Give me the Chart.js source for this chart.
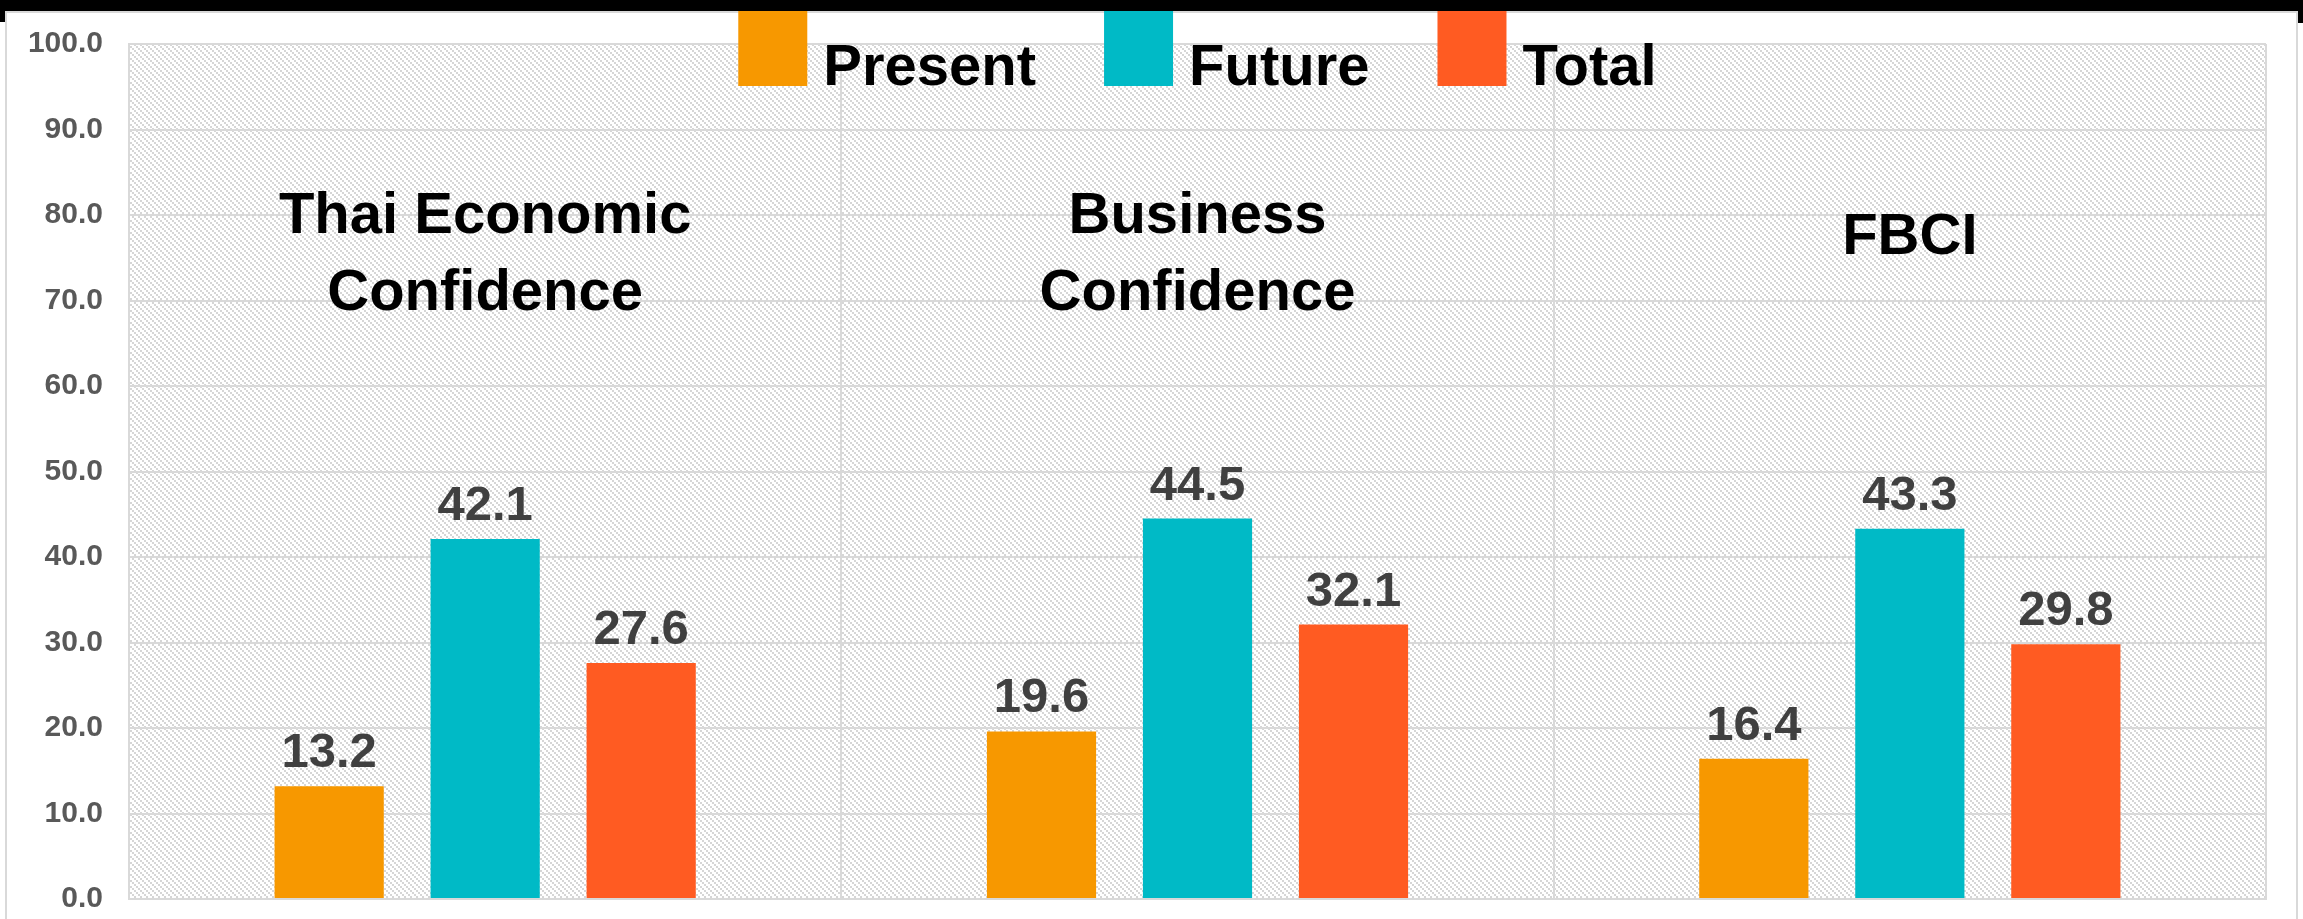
<!DOCTYPE html>
<html>
<head>
<meta charset="utf-8">
<script src="https://cdn.jsdelivr.net/npm/chart.js@4.4.0/dist/chart.umd.min.js"></script>
<style>
  html, body { margin: 0; padding: 0; background: #fff; overflow: hidden; }
  body { width: 2303px; height: 919px; position: relative; }
  .topbar { position: absolute; left: 0; top: 0; width: 2303px; height: 11px; background: #000; }
  .nub-left { position: absolute; left: 0; top: 11px; width: 5px; height: 11px; background: #000; }
  .nub-right { position: absolute; left: 2298px; top: 11px; width: 5px; height: 12px; background: #000; }
  .card { position: absolute; left: 5px; top: 11px; width: 2293px; height: 940px; box-sizing: border-box;
          border-left: 2px solid #d9d9d9; border-top: 2px solid #d9d9d9; border-right: 2px solid #d9d9d9; }
  #chart { position: absolute; left: 0; top: 0; }
</style>
</head>
<body>
<div class="topbar"></div>
<div class="nub-left"></div>
<div class="nub-right"></div>
<div class="card"></div>
<canvas id="chart" width="2303" height="943"></canvas>
<script>
// data
const categories = [['Thai Economic', 'Confidence'], ['Business', 'Confidence'], ['FBCI']];
const seriesNames = ['Present', 'Future', 'Total'];
const presentValues = [13.2, 19.6, 16.4];
const futureValues = [42.1, 44.5, 43.3];
const totalValues = [27.6, 32.1, 29.8];
const seriesColors = ['#F79800', '#00BAC6', '#FF5B22'];
const yMin = 0, yMax = 100, yStep = 10;

const FONT = '"Liberation Sans", Arial, sans-serif';

function makeHatch() {
  const n = 6;
  const c = document.createElement('canvas');
  c.width = n; c.height = n;
  const g = c.getContext('2d');
  g.fillStyle = '#ffffff';
  g.fillRect(0, 0, n, n);
  g.fillStyle = '#d6d6d6';
  for (let i = 0; i < n; i += 2) g.fillRect(i, i, 2, 2);
  return g.createPattern(c, 'repeat');
}

const hatchPlugin = {
  id: 'hatch',
  beforeDraw(chart) {
    const { ctx, chartArea: a } = chart;
    ctx.save();
    ctx.fillStyle = makeHatch();
    ctx.fillRect(a.left, a.top, a.right - a.left, a.bottom - a.top);
    ctx.restore();
  }
};

const valueLabels = {
  id: 'valueLabels',
  afterDatasetsDraw(chart) {
    const ctx = chart.ctx;
    ctx.save();
    ctx.font = 'bold 49px ' + FONT;
    ctx.fillStyle = '#404040';
    ctx.textAlign = 'center';
    ctx.textBaseline = 'alphabetic';
    chart.data.datasets.forEach((ds, i) => {
      chart.getDatasetMeta(i).data.forEach((bar, j) => {
        ctx.fillText(ds.data[j].toFixed(1), bar.x, bar.y - 19);
      });
    });
    ctx.restore();
  }
};

const categoryLabels = {
  id: 'categoryLabels',
  afterDraw(chart, args, opts) {
    const ctx = chart.ctx, x = chart.scales.x, y = chart.scales.y;
    ctx.save();
    ctx.font = 'bold 58px ' + FONT;
    ctx.fillStyle = '#000';
    ctx.textAlign = 'center';
    ctx.textBaseline = 'middle';
    categories.forEach((lines, i) => {
      const at = lines.length > 1 ? opts.twoLine : opts.oneLine;
      lines.forEach((t, k) => {
        ctx.fillText(t, x.getPixelForTick(i), y.getPixelForValue(at[k]) + 4);
      });
    });
    ctx.restore();
  }
};

const topLegend = {
  id: 'topLegend',
  afterDraw(chart) {
    const ctx = chart.ctx, a = chart.chartArea;
    const box = 69, boxH = 75, gap = 16, itemGap = 68;
    ctx.save();
    ctx.font = 'bold 58px ' + FONT;
    const widths = seriesNames.map(n => box + gap + ctx.measureText(n).width);
    const total = widths.reduce((s, w) => s + w, 0) + itemGap * (seriesNames.length - 1);
    let x = (a.left + a.right) / 2 - total / 2;
    ctx.textBaseline = 'alphabetic';
    ctx.textAlign = 'left';
    seriesNames.forEach((n, i) => {
      ctx.fillStyle = seriesColors[i];
      ctx.fillRect(x, 11, box, boxH);
      ctx.fillStyle = '#000';
      ctx.fillText(n, x + box + gap, 85);
      x += widths[i] + itemGap;
    });
    ctx.restore();
  }
};

const seriesValues = [presentValues, futureValues, totalValues];

new Chart(document.getElementById('chart'), {
  type: 'bar',
  data: {
    labels: categories,
    datasets: seriesNames.map((name, i) => ({
      label: name,
      data: seriesValues[i],
      backgroundColor: seriesColors[i],
      borderWidth: 0,
      categoryPercentage: 0.657,
      barPercentage: 0.70
    }))
  },
  options: {
    responsive: false,
    animation: false,
    layout: { padding: { top: 43, right: 37, bottom: 0, left: 0 } },
    plugins: {
      legend: { display: false },
      tooltip: { enabled: false },
      categoryLabels: { twoLine: [80.2, 71.2], oneLine: [77.8] }
    },
    scales: {
      x: {
        grid: { offset: true, color: '#d9d9d9', lineWidth: 2, drawTicks: false },
        border: { color: '#d9d9d9', width: 2 },
        ticks: { display: false },
        afterFit: s => { s.height = 0; }
      },
      y: {
        min: yMin,
        max: yMax,
        ticks: {
          stepSize: yStep,
          padding: 26,
          color: '#595959',
          font: { family: FONT, size: 30, weight: 'bold' },
          callback: v => v.toFixed(1)
        },
        grid: { color: '#d9d9d9', lineWidth: 2, drawTicks: false },
        border: { color: '#d9d9d9', width: 2 },
        afterFit: s => { s.width = 129; }
      }
    }
  },
  plugins: [hatchPlugin, valueLabels, categoryLabels, topLegend]
});
</script>
</body>
</html>
